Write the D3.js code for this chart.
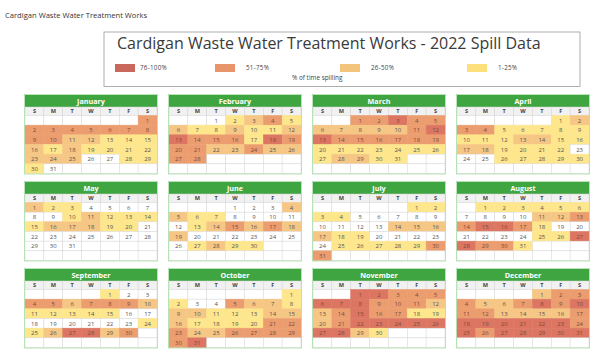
<!DOCTYPE html>
<html>
<head>
<meta charset="utf-8">
<script src="https://cdn.jsdelivr.net/npm/d3@7"></script>
<style>
  body { margin: 0; background: #fff; }
  text { font-family: "Open Sans", sans-serif; }
</style>
</head>
<body>
<svg id="chart" width="605" height="353"></svg>
<script>
// spill level per day: 0 none, 1 = 1-25%, 2 = 26-50%, 3 = 51-75%, 4 = 76-100%
const jan = [3, 3,3,3,3,3,3,3, 3,3,2,2,1,1,1, 2,1,2,1,1,1,1, 2,2,2,0,0,1,1, 1,0]
const feb = [0,1,2,3,1, 2,1,1,2,1,1,2, 4,3,3,3,1,4,3, 3,3,2,2,3,2,2, 3,3]
const mar = [3,3,4,3,3, 2,2,2,2,2,3,4, 4,3,3,3,3,3,3, 1,1,1,1,1,1,1, 1,2,2,1,1]
const apr = [1,2, 3,3,1,1,1,1,1, 1,1,1,2,2,1,1, 2,2,1,1,1,1,0, 0,0,1,1,1,1,1]
const may = [2,1,1,0,0,0,0, 0,0,1,2,1,1,1, 1,2,2,2,1,1,0, 0,0,0,0,0,0,0, 0,0,0]
const jun = [0,0,0,2, 2,1,1,0,0,0,0, 0,1,2,3,2,3,2, 2,0,0,0,0,0,0, 0,1,2,1,1]
const jul = [1,1, 1,1,0,0,0,0,0, 0,0,0,0,2,2,2, 2,1,1,0,0,0,0, 0,1,1,1,1,1,3, 3]
const aug = [1,1,1,1,1,1, 0,0,0,0,2,2,3, 3,4,4,3,1,0,0, 0,0,0,0,1,1,4, 4,3,3,1]
const sep = [1,0,0, 3,3,2,3,3,3,2, 1,1,1,1,1,0,0, 0,0,0,0,0,0,1, 1,2,4,4,2,3]
const oct = [1, 1,0,0,3,2,2,1, 2,2,1,1,1,2,2, 2,1,1,1,1,3,3, 3,2,2,3,3,3,3, 3,4]
const nov = [4,4,3,3,3, 4,4,4,3,3,3,2, 2,3,4,3,3,1,1, 2,3,4,4,4,4,4, 4,4,2,1]
const dec = [2,3,3, 3,2,2,3,4,3,4, 3,3,2,2,2,2,3, 4,4,4,4,4,4,3, 4,3,4,4,4,4,4]

const monthNames = ['January','February','March','April','May','June',
  'July','August','September','October','November','December']
const monthLevels = [jan, feb, mar, apr, may, jun, jul, aug, sep, oct, nov, dec]
const weekdays = ['S','M','T','W','T','F','S']
const legendLabels = ['76-100%', '51-75%', '26-50%', '1-25%']
const legendLevels = [4, 3, 2, 1]
const year = 2022

const svg = d3.select('#chart')

const color = d3.scaleOrdinal()
  .domain([0, 1, 2, 3, 4])
  .range(['#ffffff', '#fde68c', '#f6c684', '#ec9d6f', '#dc7662'])
const legendColor = d3.scaleOrdinal()
  .domain([1, 2, 3, 4])
  .range(['#fbe07c', '#f3c47c', '#e8956b', '#c9685c'])

// page title
svg.append('text')
  .attr('x', 5).attr('y', 18)
  .attr('font-size', 7.6).attr('fill', '#333')
  .text('Cardigan Waste Water Treatment Works')

// title box
svg.append('rect')
  .attr('x', 104).attr('y', 32).attr('width', 476).attr('height', 54.5)
  .attr('fill', '#fff').attr('stroke', '#9a9a9a').attr('stroke-width', 0.8)
svg.append('text')
  .attr('x', 117).attr('y', 49)
  .attr('font-size', 16).attr('fill', '#3a3a3a')
  .text('Cardigan Waste Water Treatment Works - 2022 Spill Data')

// legend swatches are not evenly spaced in the original
const legendPos = [115, 215, 340, 467]
const legend = svg.append('g').selectAll('g')
  .data(legendLevels)
  .join('g')
  .attr('transform', (d, i) => `translate(${legendPos[i]},64)`)
legend.append('rect')
  .attr('width', 20).attr('height', 8)
  .attr('fill', d => legendColor(d))
legend.append('text')
  .attr('x', (d, i) => i === 0 ? 25 : 31).attr('y', 6)
  .attr('font-size', 6.2).attr('letter-spacing', 0.3).attr('fill', '#444')
  .text((d, i) => legendLabels[i])
svg.append('text')
  .attr('x', 292).attr('y', 80)
  .attr('font-size', 6.4).attr('fill', '#444')
  .text('% of time spilling')

// month panels
const panelX = d3.scaleBand().domain(d3.range(4)).range([25, 589]).paddingInner(12 / 144)
const panelY = d3.scaleBand().domain(d3.range(3)).range([95, 348]).paddingInner(8 / 87)
const headH = 12, dayH = 8.5
const colX = d3.scaleBand().domain(d3.range(7)).range([0, panelX.bandwidth()])
const rowY = d3.scaleBand().domain(d3.range(6)).range([headH + dayH, headH + dayH + 58])

monthLevels.forEach((levels, m) => {
  const g = svg.append('g')
    .attr('transform', `translate(${panelX(m % 4)},${panelY(Math.floor(m / 4))})`)
  const w = panelX.bandwidth()
  const first = new Date(year, m, 1).getDay()

  g.append('rect')
    .attr('width', w).attr('height', headH)
    .attr('fill', '#3fa540')
  g.append('text')
    .attr('x', w / 2).attr('y', headH / 2 + 2.6)
    .attr('text-anchor', 'middle')
    .attr('font-size', 7.2).attr('font-weight', 'bold').attr('fill', '#fff')
    .text(monthNames[m])

  g.selectAll('rect.wd')
    .data(weekdays)
    .join('rect')
    .attr('class', 'wd')
    .attr('x', (d, i) => colX(i)).attr('y', headH)
    .attr('width', colX.bandwidth()).attr('height', dayH)
    .attr('fill', '#f1f1f1').attr('stroke', '#d4d4d4').attr('stroke-width', 0.5)
  g.selectAll('text.wd')
    .data(weekdays)
    .join('text')
    .attr('class', 'wd')
    .attr('x', (d, i) => colX(i) + colX.bandwidth() / 2).attr('y', headH + 6.2)
    .attr('text-anchor', 'middle')
    .attr('font-size', 5.6).attr('font-weight', 'bold').attr('fill', '#444')
    .text(d => d)

  // all 42 slots, empty ones stay white
  const slots = d3.range(42).map(s => {
    const day = s - first + 1
    return { s, day: day >= 1 && day <= levels.length ? day : null,
      level: day >= 1 && day <= levels.length ? levels[day - 1] : 0 }
  })
  g.selectAll('rect.day')
    .data(slots)
    .join('rect')
    .attr('class', 'day')
    .attr('x', d => colX(d.s % 7)).attr('y', d => rowY(Math.floor(d.s / 7)))
    .attr('width', colX.bandwidth()).attr('height', rowY.bandwidth())
    .attr('fill', d => color(d.level))
    .attr('stroke', d => d.level ? color(d.level) : '#d6d6d6')
    .attr('stroke-width', 0.5)
  g.selectAll('text.day')
    .data(slots.filter(d => d.day))
    .join('text')
    .attr('class', 'day')
    .attr('x', d => colX(d.s % 7) + colX.bandwidth() / 2)
    .attr('y', d => rowY(Math.floor(d.s / 7)) + rowY.bandwidth() / 2 + 2.2)
    .attr('text-anchor', 'middle')
    .attr('font-size', 6).attr('fill', d => d.level >= 3 ? '#7a4a3a' : '#555')
    .text(d => d.day)

  g.append('rect')
    .attr('x', -0.5).attr('y', -0.5)
    .attr('width', w + 1).attr('height', headH + dayH + 59)
    .attr('fill', 'none').attr('stroke', '#a8dca8').attr('stroke-width', 0.8)
})
</script>
</body>
</html>
